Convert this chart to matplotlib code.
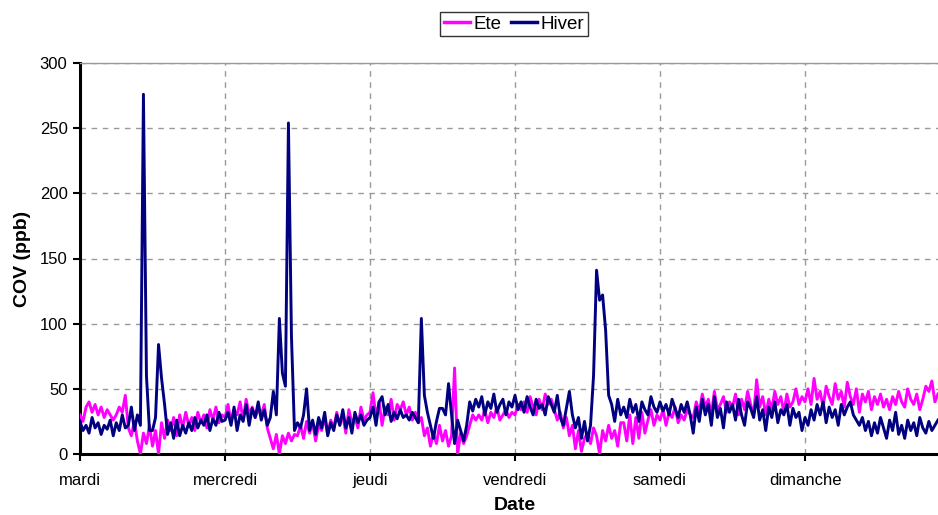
import numpy as np
import matplotlib
matplotlib.use("Agg")
import matplotlib.pyplot as plt

plt.rcParams['font.family'] = ['Liberation Sans', 'DejaVu Sans']

# Half-hourly COV concentrations (ppb), starting Tuesday 00:00
hiver = [
    25, 18, 22, 16, 28, 20, 24, 15, 22, 19, 26, 14,
    24, 18, 30, 20, 22, 36, 18, 30, 22, 276, 60, 18,
    18, 28, 84, 58, 38, 15, 24, 12, 26, 14, 22, 16,
    24, 18, 28, 20, 26, 22, 30, 18, 27, 22, 32, 25,
    26, 32, 22, 36, 18, 30, 25, 38, 22, 35, 28, 40,
    26, 34, 22, 28, 48, 30, 104, 62, 52, 254, 90, 18,
    24, 20, 30, 50, 18, 26, 15, 28, 20, 32, 14, 24,
    18, 30, 22, 34, 20, 28, 16, 32, 24, 30, 22, 26,
    28, 36, 22, 40, 44, 30, 38, 25, 32, 27, 34, 28,
    30, 26, 32, 28, 24, 104, 45, 32, 22, 12, 25, 35,
    35, 30, 54, 30, 8, 26, 18, 10, 22, 40, 33, 42,
    36, 44, 30, 40, 35, 46, 32, 38, 42, 30, 40, 36,
    45, 34, 40, 32, 44, 36, 30, 42, 35, 38, 30, 44,
    38, 32, 45, 28, 22, 35, 48, 30, 20, 28, 12, 25,
    10, 22, 60, 141, 118, 122, 95, 45, 38, 25, 42, 30,
    36, 28, 42, 32, 38, 25, 40, 34, 30, 44, 36, 32,
    40, 33, 38, 30, 42, 35, 28, 38, 32, 40, 30, 16,
    36, 25, 42, 30, 38, 22, 44, 28, 35, 20, 40, 32,
    38, 26, 42, 30, 22, 40, 35, 28, 44, 26, 34, 18,
    36, 28, 40, 24, 34, 30, 38, 22, 35, 28, 32, 18,
    28, 22, 34, 26, 38, 30, 40, 24, 36, 28, 34, 22,
    38, 30, 36, 40, 30, 26, 22, 28, 18, 25, 14, 24,
    16, 28, 20, 12, 26, 18, 32, 15, 22, 12, 26, 18,
    24, 14, 28, 20, 16, 25, 18, 22, 26,
]

ete = [
    30, 25, 36, 40, 32, 38, 30, 36, 28, 34, 30, 26,
    30, 36, 32, 45, 20, 14, 25, 10, 0, 16, 8, 22,
    6, 18, 0, 24, 12, 26, 18, 28, 14, 30, 20, 32,
    22, 28, 18, 32, 24, 30, 20, 34, 26, 36, 24, 30,
    28, 38, 24, 34, 30, 40, 26, 42, 30, 36, 28, 34,
    30, 38, 20, 12, 4, 15, 0, 14, 8, 16, 10, 15,
    14, 22, 12, 25, 16, 24, 10, 22, 18, 28, 15, 26,
    20, 32, 22, 30, 16, 34, 24, 28, 20, 36, 26, 30,
    32, 47, 28, 40, 22, 36, 30, 42, 26, 38, 34, 40,
    30, 36, 26, 32, 24, 28, 14, 20, 6, 16, 8, 22,
    10, 18, 6, 14, 66, 0, 16, 8, 14, 22, 30, 26,
    30, 26, 34, 24, 32, 28, 36, 26, 30, 34, 28, 32,
    30, 38, 34, 40, 32, 44, 36, 30, 42, 34, 46, 38,
    42, 34, 26, 32, 20, 28, 14, 22, 4, 18, 2, 12,
    16, 8, 20, 14, 0, 18, 10, 22, 12, 18, 6, 24,
    24, 10, 30, 8, 28, 12, 32, 16, 26, 34, 22, 30,
    26, 34, 22, 32, 28, 36, 24, 30, 26, 34, 30, 28,
    40, 32, 46, 36, 42, 30, 48, 34, 38, 44, 32, 40,
    36, 46, 30, 42, 34, 48, 38, 30, 57, 36, 44, 30,
    42, 34, 48, 38, 44, 32, 46, 36, 40, 50, 38, 44,
    40, 50, 38, 58, 42, 48, 36, 52, 44, 38, 54, 42,
    48, 36, 55, 44, 38, 50, 32, 46, 40, 48, 34, 44,
    38, 46, 36, 42, 34, 44, 38, 48, 40, 36, 50, 42,
    38, 46, 34, 42, 52, 48, 56, 40, 46,
]

jours = ["mardi", "mercredi", "jeudi", "vendredi", "samedi", "dimanche"]
steps_per_day = 48

t_ete = np.arange(len(ete)) / steps_per_day
t_hiver = np.arange(len(hiver)) / steps_per_day

W, H = 938, 515
fig = plt.figure(figsize=(W / 100, H / 100), dpi=100)
# plot area spans six days; its right end runs slightly past the canvas
ax = fig.add_axes([80 / W, 61 / H, (950 - 80) / W, (454 - 63) / H])

ax.plot(t_ete, ete, color="#FF00FF", lw=2.1, label="Ete", zorder=3)
ax.plot(t_hiver, hiver, color="#000080", lw=2.1, label="Hiver", zorder=4)

ax.set_xlim(0, 6)
ax.set_ylim(0, 300)
ax.set_yticks(np.arange(0, 301, 50))
ax.set_xticks(np.arange(len(jours)))
ax.set_xticklabels(jours)

ax.grid(True, color="#999999", linestyle=(0, (4, 4)), linewidth=1.0)
ax.set_axisbelow(True)

for side in ("left", "bottom"):
    ax.spines[side].set_color("black")
    ax.spines[side].set_linewidth(2.2)
ax.spines["top"].set_color("#999999")
ax.spines["top"].set_linewidth(1.0)
ax.spines["right"].set_visible(False)

ax.tick_params(axis="both", labelsize=12, direction="out", width=1.5,
               length=5, color="black")
ax.tick_params(axis="x", pad=9)
ax.tick_params(axis="y", pad=4)

ax.set_ylabel("COV (ppb)", fontsize=14, fontweight="bold", labelpad=6)
ax.set_xlabel("Date", fontsize=14, fontweight="bold", labelpad=6)

leg = fig.legend(loc="center", bbox_to_anchor=(514 / W, 1 - 24 / H),
                 ncol=2, fontsize=13.5, frameon=True, fancybox=False,
                 handlelength=1.4, handletextpad=0.2, columnspacing=0.5,
                 borderpad=0.2, borderaxespad=0)
leg.get_frame().set_edgecolor("black")
leg.get_frame().set_linewidth(1.0)
for line in leg.get_lines():
    line.set_linewidth(2.5)

fig.savefig("out.png", dpi=100)
